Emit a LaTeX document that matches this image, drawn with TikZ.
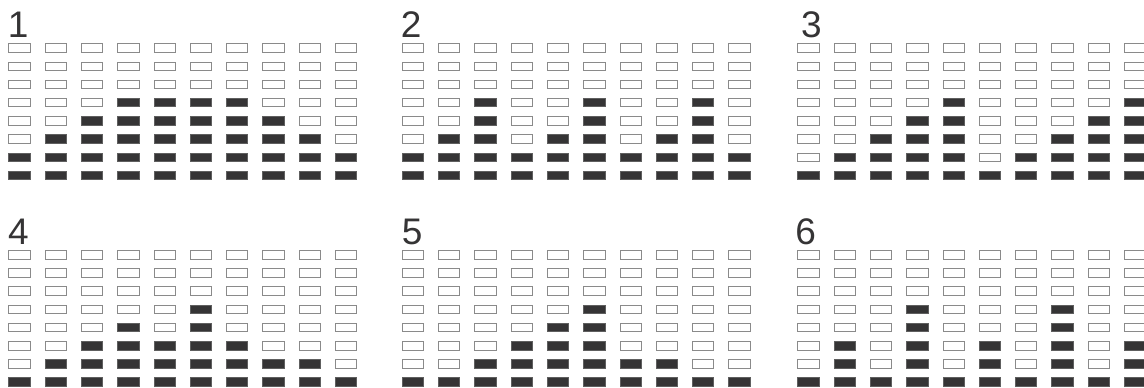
\documentclass[tikz,border=0pt]{standalone}
\usepackage{fontspec}
\setmainfont{Liberation Sans}
\usepackage{xcolor}
\usepackage{tikz}
\usetikzlibrary{positioning}

\definecolor{barfill}{HTML}{353435}
\definecolor{barline}{HTML}{8A8A8A}

\begin{document}
\begin{tikzpicture}[
    x=1pt, y=-1pt,
    cell/.style={draw=barline, line width=1pt, fill=white},
    lit/.style={draw=barline!50!barfill, line width=1pt, fill=barfill},
    num/.style={anchor=base west, inner sep=0pt, text=barfill, font=\fontsize{37}{40}\selectfont}
]
\useasboundingbox (0,0) rectangle (1144,388);

% panel number / left / top / label x / filled cells per column
\foreach \n/\px/\py/\lx/\hts in {
    1/8.3/43.3/7.7/{2,3,4,5,5,5,5,4,3,2},
    2/401.7/43.3/400.6/{2,3,5,2,3,5,2,3,5,2},
    3/797.3/43.3/801/{1,2,3,4,5,1,2,3,4,5},
    4/8.3/250/8/{1,2,3,4,3,5,3,2,2,1},
    5/401.7/250/401.6/{1,1,2,3,4,5,2,2,1,1},
    6/797.3/250/795.2/{1,3,1,5,1,3,1,5,1,3}} {
  \node[num] (lbl\n) at (\lx,\py-5.4) {\n};
  \foreach \h [count=\c from 0] in \hts {
    \foreach \r in {0,...,7} {
      \ifnum\r<\numexpr8-\h\relax
        \draw[cell] (\px+\c*36.3+0.5,\py+\r*18.2+0.5) rectangle ++(21.3,8.5);
      \else
        \draw[lit] (\px+\c*36.3+0.5,\py+\r*18.2+0.5) rectangle ++(21.3,8.5);
      \fi
    }
  }
}
\end{tikzpicture}
\end{document}
